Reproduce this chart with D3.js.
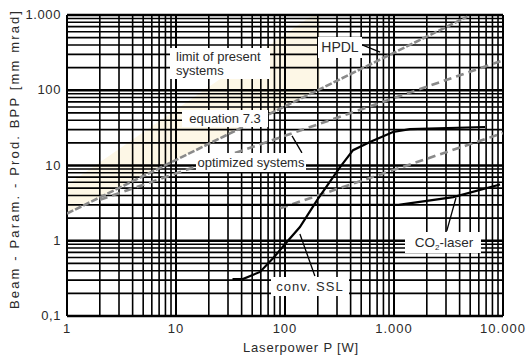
<!DOCTYPE html>
<html>
<head>
<meta charset="utf-8">
<script src="https://cdn.jsdelivr.net/npm/d3@7"></script>
<style>
  body { margin: 0; background: #fff; }
  text { font-family: "Liberation Sans", Arial, sans-serif; fill: #2a2a2a; }
</style>
</head>
<body>
<svg id="chart" width="527" height="356"></svg>
<script>
// axis ticks
const xTicks = [1, 10, 100, 1000, 10000];
const xTickLabels = ['1', '10', '100', '1.000', '10.000'];
const yTicks = [0.1, 1, 10, 100, 1000];
const yTickLabels = ['0,1', '1', '10', '100', '1.000'];

// series [power W, BPP mm mrad]
const limitLine = [[1, 2.3], [4700, 950]];
const limitBandTop = [[1, 5.5], [180, 1000]];
const optimizedLine = [[2, 3.5], [10000, 250]];
const optimizedLine2 = [[90, 2.7], [10000, 27]];
const co2Laser = [[2, 3], [1100, 3], [3500, 3.8], [9400, 5.6]];
const convSSL = [[33, 0.31], [41, 0.31], [59, 0.385], [78, 0.59], [104, 0.96], [137, 1.52],
  [197, 3.47], [320, 9.5], [421, 16], [602, 20.5], [979, 27.9], [1400, 30.5], [6840, 32.5]];

const svg = d3.select('#chart');
const pLeft = 67, pRight = 503, pTop = 15, pBottom = 316;

const x = d3.scaleLog().domain([1, 10000]).range([pLeft, pRight]);
const y = d3.scaleLog().domain([0.1, 1000]).range([pBottom, pTop]);

// all grid values 1..9 per decade
const gridVals = (lo, hi) => {
  const out = [];
  for (let d = lo; d < hi; d *= 10) {
    for (let k = 1; k <= 10; k++) out.push(+(d * k).toPrecision(3));
  }
  return Array.from(new Set(out));
};

const defs = svg.append('defs');
defs.append('clipPath').attr('id', 'plot')
  .append('rect').attr('x', pLeft).attr('y', pTop).attr('width', pRight - pLeft).attr('height', pBottom - pTop);
defs.append('clipPath').attr('id', 'band')
  .append('rect').attr('x', pLeft).attr('y', pTop).attr('width', x(210) - pLeft).attr('height', pBottom - pTop);

const line = d3.line().x(d => x(d[0])).y(d => y(d[1]));

// faint band above the limit line
const bandPts = limitBandTop.concat([[4700, 1000]], limitLine.slice().reverse());
svg.append('path')
  .attr('clip-path', 'url(#band)')
  .attr('d', line(bandPts) + 'Z')
  .attr('fill', '#fdf7e6');

// grid
const grid = svg.append('g');
grid.selectAll('.vx')
  .data(gridVals(1, 10000))
  .enter().append('line')
    .attr('x1', d => x(d)).attr('x2', d => x(d))
    .attr('y1', pTop).attr('y2', pBottom)
    .attr('stroke', '#000')
    .attr('stroke-width', d => xTicks.includes(d) ? 2 : 1.6);
grid.selectAll('.hy')
  .data(gridVals(0.1, 1000))
  .enter().append('line')
    .attr('x1', pLeft).attr('x2', pRight)
    .attr('y1', d => y(d)).attr('y2', d => y(d))
    .attr('stroke', '#000')
    .attr('stroke-width', d => yTicks.includes(d) ? 2.4 : 1.6);

// gray dashed lines
const plot = svg.append('g').attr('clip-path', 'url(#plot)');
plot.append('path').attr('d', line(limitLine))
  .attr('fill', 'none').attr('stroke', '#8a8a8a').attr('stroke-width', 2.6)
  .attr('stroke-dasharray', '7 2');
[optimizedLine, optimizedLine2].forEach(s => {
  plot.append('path').attr('d', line(s))
    .attr('fill', 'none').attr('stroke', '#8a8a8a').attr('stroke-width', 2.6)
    .attr('stroke-dasharray', '8 5');
});

// black curves
[co2Laser, convSSL].forEach(s => {
  plot.append('path').attr('d', line(s))
    .attr('fill', 'none').attr('stroke', '#000').attr('stroke-width', 2.2);
});

// annotation boxes (pixel layout)
const notes = [
  { lines: ['limit of present', 'systems'], x: 170, y: 48, w: 100, h: 31, anchor: 'start', tx: 176 },
  { lines: ['HPDL'], x: 318, y: 37, w: 44, h: 21 },
  { lines: ['equation 7.3'], x: 182, y: 110, w: 86, h: 17 },
  { lines: ['optimized systems'], x: 196, y: 153, w: 110, h: 19 },
  { lines: ['conv. SSL'], x: 271, y: 277, w: 78, h: 19 }
];
// leaders in data units
const leaders = [
  [[143, 14.7], [116, 24.7]],
  [[3050, 1.35], [3700, 3.7]],
  [[188, 0.34], [137, 1.23]],
  [[510, 400], [745, 322]]
];
leaders.forEach(l => {
  svg.append('path').attr('d', line(l))
    .attr('stroke', '#000').attr('stroke-width', 1.3).attr('fill', 'none');
});

notes.forEach(n => {
  svg.append('rect').attr('x', n.x).attr('y', n.y).attr('width', n.w).attr('height', n.h)
    .attr('fill', '#fff');
  const t = svg.append('text')
    .attr('font-size', n.lines[0] === 'HPDL' ? 14 : 13)
    .attr('letter-spacing', n.lines[0] === 'conv. SSL' ? 1 : 0)
    .attr('text-anchor', n.anchor || 'middle');
  n.lines.forEach((s, i) => {
    t.append('tspan')
      .attr('x', n.tx || n.x + n.w / 2)
      .attr('y', n.y + n.h / 2 + 4.5 + (i - (n.lines.length - 1) / 2) * 14)
      .text(s);
  });
});

// CO2 label with subscript
svg.append('rect').attr('x', 405).attr('y', 232).attr('width', 76).attr('height', 21).attr('fill', '#fff');
const co2 = svg.append('text').attr('x', 444).attr('y', 247).attr('font-size', 13.5).attr('text-anchor', 'middle');
co2.append('tspan').text('CO');
co2.append('tspan').attr('font-size', 8).attr('dy', 3).text('2');
co2.append('tspan').attr('dy', -3).text('-laser');

// tick labels
svg.selectAll('.xl')
  .data(xTicks)
  .enter().append('text')
    .attr('x', d => x(d))
    .attr('y', 333)
    .attr('text-anchor', 'middle')
    .attr('font-size', 13)
    .attr('letter-spacing', 1)
    .text((d, i) => xTickLabels[i]);
svg.selectAll('.yl')
  .data(yTicks)
  .enter().append('text')
    .attr('x', 61)
    .attr('y', d => y(d) + 4)
    .attr('text-anchor', 'end')
    .attr('font-size', 13)
    .attr('letter-spacing', 0.6)
    .text((d, i) => yTickLabels[i]);

// axis titles
svg.append('text')
  .attr('x', 301).attr('y', 352)
  .attr('text-anchor', 'middle')
  .attr('font-size', 13)
  .attr('letter-spacing', 0.8)
  .text('Laserpower P [W]');
svg.append('text')
  .attr('transform', 'translate(19, 160) rotate(-90)')
  .attr('text-anchor', 'middle')
  .attr('font-size', 13)
  .attr('textLength', 298)
  .text('Beam - Param. - Prod. BPP [mm mrad]');
</script>
</body>
</html>
